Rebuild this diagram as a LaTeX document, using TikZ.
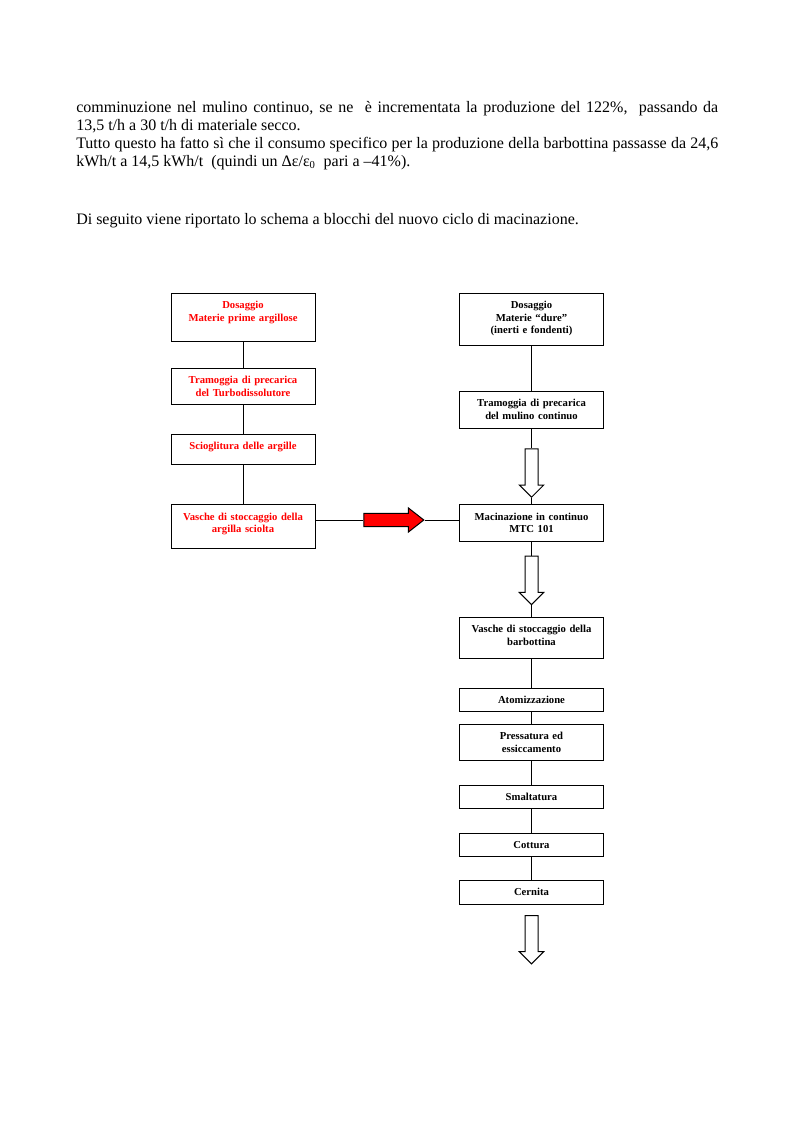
\documentclass[tikz,border=0pt]{standalone}
\usepackage{fontspec}
\setmainfont{Liberation Serif}
\usetikzlibrary{positioning,calc,shapes.arrows}
\tikzset{
    block/.style = {
        draw,
        shape=rectangle,
        anchor=north,
        minimum width=108pt,
        text width=104pt,
        inner xsep=2pt,
        inner ysep=4pt,
        text height=7.6pt,
        align=center,
        line width=0.75pt,
        font=\bfseries\fontsize{8pt}{9.4pt}\selectfont
    },
    redblock/.style = {
        block,
        text=red
    },
    hollow/.style = {
        draw,
        shape=single arrow,
        rotate=-90,
        anchor=tail,
        inner sep=0pt,
        text height=4.5pt,
        text depth=4.5pt,
        single arrow head extend=4.25pt,
        single arrow tip angle=90,
        minimum width=17.5pt,
        minimum height=36.3pt,
        line width=0.75pt
    },
    redarrow/.style = {
        draw,
        fill=red,
        shape=single arrow,
        anchor=tail,
        inner sep=0pt,
        text height=4.6pt,
        text depth=4.6pt,
        single arrow head extend=4.1pt,
        single arrow tip angle=76,
        minimum width=17.4pt,
        minimum height=45pt,
        line width=0.75pt
    },
    body/.style = {
        anchor=base west,
        inner sep=0pt,
        font=\fontsize{12pt}{13.5pt}\selectfont
    },
}

\begin{document}
\begin{tikzpicture}[x=0.75pt,y=-0.75pt]
    \useasboundingbox[fill=white] (0,0) rectangle (793,1123);

    % text above the scheme
    \node[body, text width=481.5pt, align=justify] (par) at (76,112.5) {comminuzione nel mulino continuo, se ne\ \ è incrementata la produzione del 122\%,\ \ passando da\linebreak 13,5 t/h a 30 t/h di materiale secco.\\Tutto questo ha fatto sì che il consumo specifico per la produzione della barbottina passasse da 24,6\linebreak kWh/t a 14,5 kWh/t\ \ (quindi un Δε/ε\textsubscript{0}\ \ pari a –41\%).};
    \node[body] (intro) at (76,224.5) {Di seguito viene riportato lo schema a blocchi del nuovo ciclo di macinazione.};

    % left column
    \node[redblock, text depth=20.4pt] (ldos) at (243,292.5) {Dosaggio\\Materie prime argillose};
    \node[redblock, text depth=11.4pt] (ltram) at (243,368) {Tramoggia di precarica\\del Turbodissolutore};
    \node[redblock, text depth=7.1pt] (lsciog) at (243,433.7) {Scioglitura delle argille};
    \node[redblock, text depth=17.2pt] (lvasche) at (243,504.3) {Vasche di stoccaggio della\\argilla sciolta};

    % right column
    \node[block, text depth=23.4pt] (rdos) at (531.5,292.7) {Dosaggio\\Materie “dure”\\(inerti e fondenti)};
    \node[block, text depth=11.9pt] (rtram) at (531.5,391) {Tramoggia di precarica\\del mulino continuo};
    \node[hollow] (arrA) at (531.5,448.3) {};
    \node[block, text depth=11.7pt] (macin) at (531.5,504.3) {Macinazione in continuo\\MTC 101};
    \node[hollow] (arrB) at (531.5,555.7) {};
    \node[block, text depth=14.8pt] (rvasche) at (531.5,617) {Vasche di stoccaggio della\\barbottina};
    \node[block, text depth=2pt] (atom) at (531.5,688) {Atomizzazione};
    \node[block, text depth=11.4pt] (press) at (531.5,724) {Pressatura ed\\essiccamento};
    \node[block, text depth=1.65pt] (smalt) at (531.5,785) {Smaltatura};
    \node[block, text depth=1.65pt] (cott) at (531.5,833) {Cottura};
    \node[block, text depth=2.4pt] (cern) at (531.5,880) {Cernita};
    \node[hollow] (arrC) at (531.5,915) {};

    \node[redarrow] (redarr) at (363.3,520) {};

    \path[draw, line width=0.75pt] (ldos) -- (ltram);
    \path[draw, line width=0.75pt] (ltram) -- (lsciog);
    \path[draw, line width=0.75pt] (lsciog) -- (lvasche);
    \path[draw, line width=0.75pt] (lvasche.east |- redarr.tail) -- (redarr.tail);
    \path[draw, line width=0.75pt] (redarr.tip) -- (redarr.tip -| macin.west);

    \path[draw, line width=0.75pt] (rdos) -- (rtram);
    \path[draw, line width=0.75pt] (rtram) -- (arrA.tail);
    \path[draw, line width=0.75pt] (arrA.tip) -- (macin);
    \path[draw, line width=0.75pt] (macin) -- (arrB.tail);
    \path[draw, line width=0.75pt] (arrB.tip) -- (rvasche);
    \path[draw, line width=0.75pt] (rvasche) -- (atom);
    \path[draw, line width=0.75pt] (atom) -- (press);
    \path[draw, line width=0.75pt] (press) -- (smalt);
    \path[draw, line width=0.75pt] (smalt) -- (cott);
    \path[draw, line width=0.75pt] (cott) -- (cern);
\end{tikzpicture}
\end{document}
